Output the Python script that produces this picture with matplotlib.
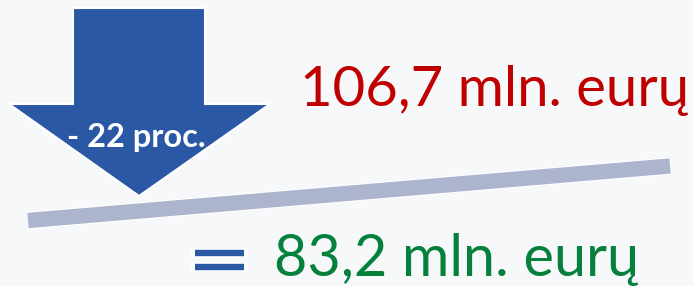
import matplotlib
matplotlib.use("Agg")
import matplotlib.pyplot as plt
from matplotlib.patches import Polygon

# Data
labels = ["before", "after"]
values = [106.7, 83.2]          # mln. eurų
change_pct = [-22]              # proc.
unit = "mln. eurų"

def fmt(v):
    return f"{v:.1f}".replace(".", ",")

BG = "#F6F8FA"
BLUE = "#2B58A5"
RED = "#C00000"
GREEN = "#05813D"
BAR = "#ADB4CE"

fig = plt.figure(figsize=(6.93, 2.86), dpi=100, facecolor=BG)
ax = fig.add_axes([0, 0, 1, 1])
ax.set_xlim(0, 693)
ax.set_ylim(286, 0)
ax.axis("off")
ax.set_facecolor(BG)

# Arrow (down)
arrow = [(73, 8), (205, 8), (205, 104), (270, 104), (139, 196),
         (9, 104), (73, 104)]
ax.add_patch(Polygon(arrow, closed=True, facecolor=BLUE, edgecolor="white",
                     linewidth=1.5, joinstyle="miter", zorder=2))

# Slanted bar
ax.plot([28, 670], [220.5, 166], color="white", linewidth=12.5,
        solid_capstyle="butt", zorder=3)
ax.plot([28, 670], [220.5, 166], color=BAR, linewidth=11,
        solid_capstyle="butt", zorder=4)

font = "Lato"
ax.text(136, 147, f"- {abs(change_pct[0])} proc.", color="white",
        fontsize=23.5, fontweight="bold", family=font, ha="center",
        va="baseline", zorder=5)

ax.text(689, 106, f"{fmt(values[0])} {unit}", color=RED, fontsize=40.5,
        family=font, ha="right", va="baseline", zorder=5)

ax.text(639, 276, f"{fmt(values[1])} {unit}", color=GREEN, fontsize=41.5,
        family=font, ha="right", va="baseline", zorder=5)

# Equals sign
for yy in (253, 266.5):
    ax.plot([195, 244], [yy, yy], color="white", linewidth=6,
            solid_capstyle="projecting", zorder=5)
    ax.plot([195, 244], [yy, yy], color=BLUE, linewidth=4.6,
            solid_capstyle="butt", zorder=6)

fig.savefig("out.png", dpi=100, facecolor=BG)
